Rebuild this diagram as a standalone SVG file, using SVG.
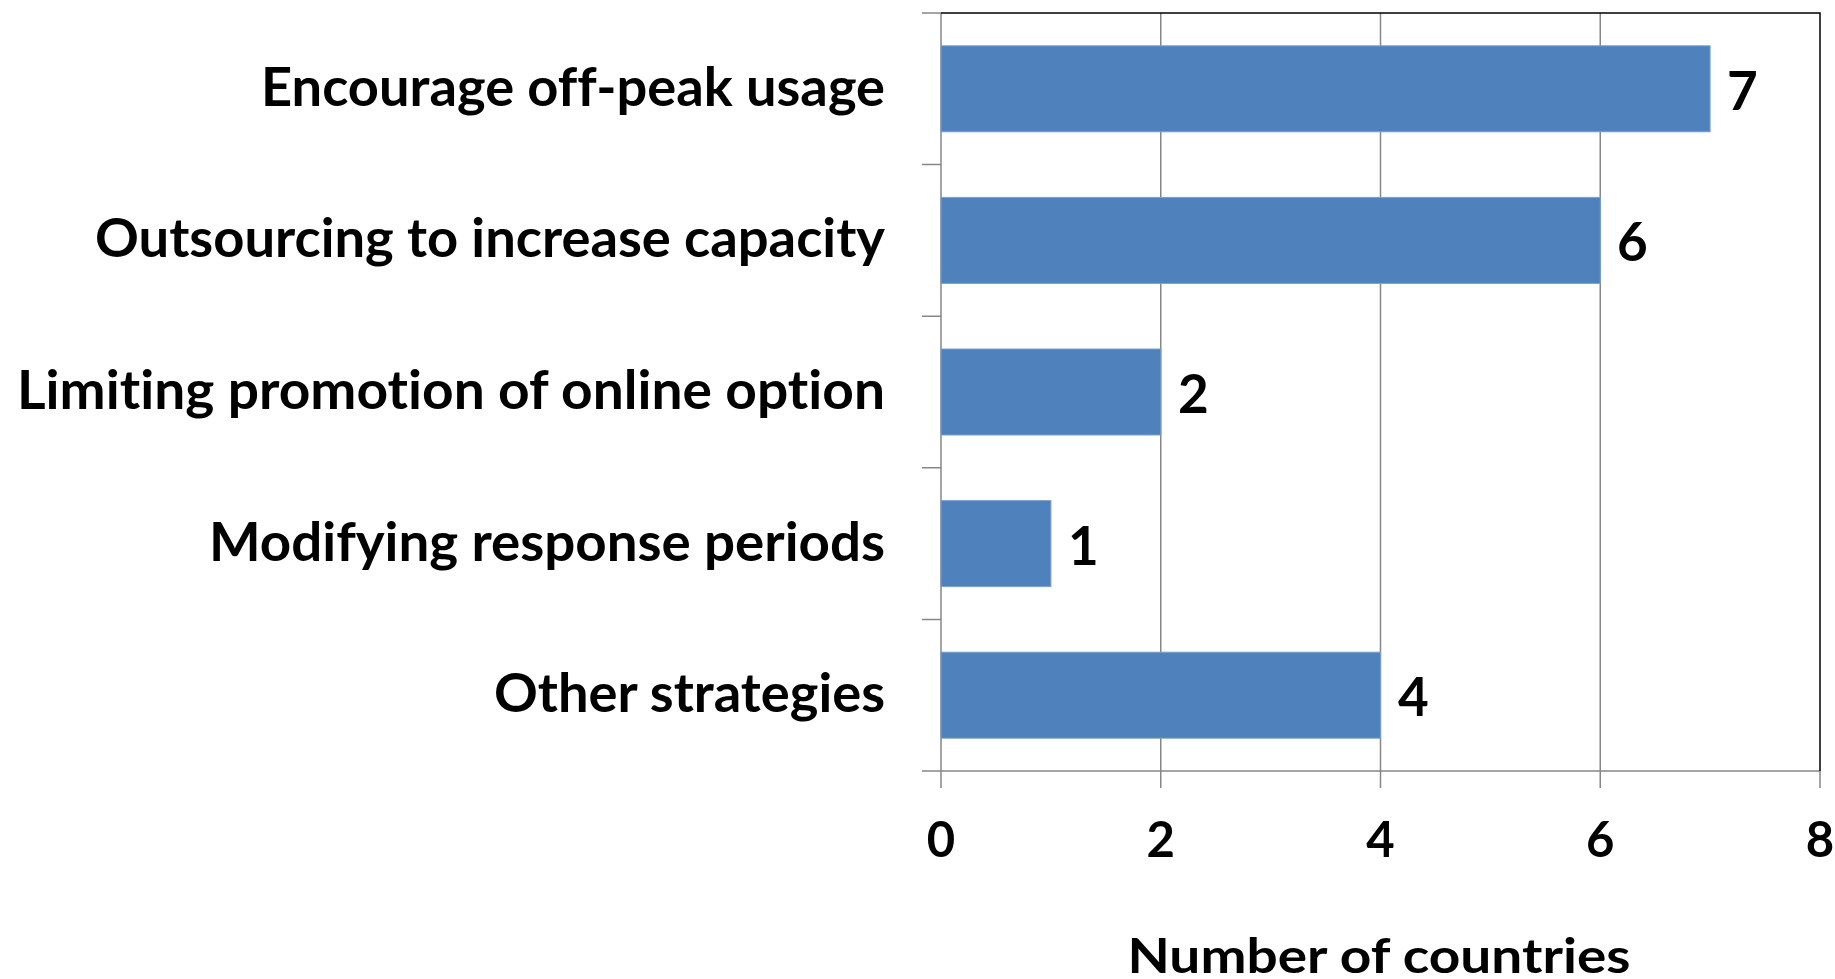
<svg xmlns="http://www.w3.org/2000/svg" width="1835" height="979" viewBox="0 0 1835 979">
<style>
text{font-variant-ligatures:none;font-feature-settings:"liga" 0,"clig" 0}
.cat{font-family:Lato,"Liberation Sans",sans-serif;font-weight:bold;font-size:54px;fill:#000;text-anchor:end}
.val{font-family:Lato,"Liberation Sans",sans-serif;font-weight:bold;font-size:53px;fill:#000}
.tick{font-family:Lato,"Liberation Sans",sans-serif;font-weight:bold;font-size:49px;fill:#000;text-anchor:middle}
.title{font-family:Lato,"Liberation Sans",sans-serif;font-weight:bold;font-size:48px;fill:#000;text-anchor:middle}
.bar{fill:#4F81BD;stroke:#7BA0CD;stroke-width:1}
.grid{stroke:#868686;stroke-width:1.5;fill:none}
</style>
<rect width="1835" height="979" fill="#fff"/>
<g id="axes">
<path class="grid" d="M1160.75 13V771M1380.5 13V771M1600.25 13V771"/>
<path class="grid" d="M941 13V788M1160.75 771V788M1380.5 771V788M1600.25 771V788M1820 771V788"/>
<path class="grid" d="M922 771H1820M922 13H941M922 164.6H941M922 316.2H941M922 467.8H941M922 619.4H941"/>
<path d="M941 13H1820V771" stroke="#000" stroke-width="1.5" fill="none"/>
</g>
<g id="bar-1"><rect class="bar" x="941" y="45.8" width="769.1" height="86"/><text class="cat" x="885" y="105.8" textLength="624" lengthAdjust="spacingAndGlyphs">Encourage off-peak usage</text><text class="val" x="1727" y="109.8">7</text></g>
<g id="bar-2"><rect class="bar" x="941" y="197.4" width="659.3" height="86"/><text class="cat" x="885" y="257.4" textLength="790" lengthAdjust="spacingAndGlyphs">Outsourcing to increase capacity</text><text class="val" x="1617" y="261.4">6</text></g>
<g id="bar-3"><rect class="bar" x="941" y="349" width="219.8" height="86"/><text class="cat" x="885" y="409" textLength="868" lengthAdjust="spacingAndGlyphs">Limiting promotion of online option</text><text class="val" x="1178" y="413">2</text></g>
<g id="bar-4"><rect class="bar" x="941" y="500.6" width="109.9" height="86"/><text class="cat" x="885" y="560.6" textLength="676" lengthAdjust="spacingAndGlyphs">Modifying response periods</text><text class="val" x="1068" y="564.6">1</text></g>
<g id="bar-5"><rect class="bar" x="941" y="652.2" width="439.5" height="86"/><text class="cat" x="885" y="712.2" textLength="391" lengthAdjust="spacingAndGlyphs">Other strategies</text><text class="val" x="1398" y="716.2">4</text></g>
<g id="x-labels">
<text class="tick" x="941" y="857">0</text>
<text class="tick" x="1160.75" y="857">2</text>
<text class="tick" x="1380.5" y="857">4</text>
<text class="tick" x="1600.25" y="857">6</text>
<text class="tick" x="1820" y="857">8</text>
<text class="title" x="1379" y="973" textLength="503" lengthAdjust="spacingAndGlyphs">Number of countries</text>
</g>
</svg>
